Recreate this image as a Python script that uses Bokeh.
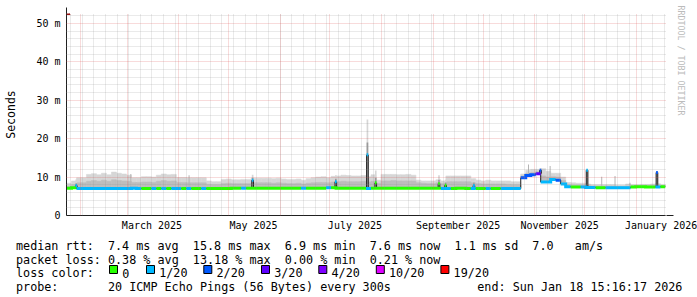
import re
import numpy as np
import pandas as pd
from bokeh.plotting import figure
from bokeh.layouts import column
from bokeh.models import (Range1d, FixedTicker, DatetimeTickFormatter, Title,
                          Arrow, NormalHead)
from bokeh.core.properties import value
from bokeh.embed import file_html
from bokeh.resources import INLINE

# ---------------- data ----------------
END = pd.Timestamp("2026-01-18 15:16:17")
START = END - pd.Timedelta(days=360)
BIN_DAYS = 3          # one value per 3-day bin
SPIKE_DAYS = 1.0      # duration of short events
EPOCH = pd.Timestamp("1970-01-01")

median_ms = [
    7.1, 7.2, 7.0, 7.0, 7.0, 7.0, 7.0, 7.0, 7.0, 7.0,
    7.0, 7.0, 7.0, 7.1, 7.0, 7.0, 7.0, 7.0, 7.0, 7.0,
    7.0, 7.0, 7.0, 7.0, 7.0, 7.0, 7.0, 7.0, 7.0, 7.0,
    7.0, 7.0, 7.0, 7.1, 7.1, 7.1, 7.1, 7.1, 7.1, 7.1,
    7.1, 7.1, 7.1, 7.1, 7.1, 7.1, 7.1, 7.1, 7.1, 7.1,
    7.1, 7.1, 7.2, 7.2, 7.1, 7.1, 7.1, 7.1, 7.1, 7.1,
    7.0, 7.1, 7.1, 7.1, 7.1, 7.1, 7.1, 7.1, 7.1, 7.1,
    7.1, 7.1, 7.1, 7.1, 7.1, 7.0, 7.0, 7.0, 7.1, 7.1,
    7.0, 7.0, 7.0, 7.0, 7.0, 7.0, 7.0, 7.0, 7.0, 7.0,
    7.0, 9.8, 10.4, 10.6, 10.9, 8.7, 8.7, 9.4, 9.2, 8.2,
    7.5, 7.4, 7.4, 7.4, 7.3, 7.3, 7.2, 7.2, 7.2, 7.2,
    7.2, 7.2, 7.2, 7.4, 7.5, 7.5, 7.4, 7.4, 7.4, 7.5,
]
loss_level = [
    0, 0, 1, 1, 1, 1, 1, 1, 1, 1,
    1, 1, 1, 1, 1, 0, 0, 1, 0, 1,
    0, 1, 1, 0, 1, 0, 0, 1, 0, 0,
    0, 0, 0, 0, 0, 1, 0, 0, 0, 0,
    0, 0, 0, 0, 0, 0, 0, 1, 0, 0,
    0, 0, 1, 0, 0, 0, 0, 0, 0, 0,
    1, 0, 0, 0, 0, 0, 0, 0, 0, 0,
    0, 0, 0, 0, 0, 1, 1, 0, 0, 0,
    0, 1, 0, 0, 1, 0, 0, 1, 1, 1,
    1, 2, 2, 2, 3, 1, 1, 1, 2, 1,
    1, 0, 0, 1, 1, 1, 0, 0, 1, 1,
    1, 1, 1, 0, 0, 0, 0, 0, 1, 0,
]
smoke_top_ms = [
    8.4, 9.0, 9.8, 9.8, 10.7, 10.9, 10.6, 11.0, 10.6, 11.3,
    11.0, 10.8, 10.5, 9.8, 9.8, 10.1, 10.1, 10.0, 10.5, 10.8,
    10.6, 10.7, 9.9, 9.9, 9.8, 9.8, 9.8, 9.8, 9.0, 8.8,
    8.8, 9.4, 9.5, 9.3, 9.3, 9.4, 9.4, 9.7, 9.7, 9.7,
    9.7, 9.6, 9.7, 9.5, 9.4, 9.4, 9.5, 9.2, 9.6, 9.8,
    10.0, 10.1, 9.8, 10.2, 10.3, 10.5, 10.4, 10.3, 10.3, 10.4,
    10.1, 10.6, 9.2, 10.7, 10.7, 10.7, 10.6, 10.6, 10.7, 10.5,
    9.2, 9.0, 9.0, 9.0, 9.3, 9.0, 10.3, 10.3, 10.3, 10.3,
    10.3, 9.6, 9.2, 9.0, 9.2, 9.0, 9.0, 9.0, 9.0, 8.8,
    8.8, 10.8, 11.8, 12.0, 12.0, 12.2, 11.5, 11.0, 11.0, 10.0,
    8.6, 8.5, 8.4, 8.4, 8.2, 8.0, 8.0, 8.0, 8.0, 8.0,
    7.9, 7.9, 8.2, 8.0, 8.0, 8.1, 8.1, 8.2, 8.3, 8.0,
]
smoke_inner_ms = [
    7.7, 8.0, 8.5, 8.5, 8.9, 9.1, 8.9, 9.2, 8.9, 9.3,
    9.1, 9.0, 8.9, 8.6, 8.6, 8.7, 8.7, 8.6, 8.9, 9.1,
    8.9, 9.0, 8.6, 8.6, 8.5, 8.5, 8.5, 8.5, 8.1, 8.0,
    8.0, 8.3, 8.4, 8.3, 8.3, 8.3, 8.3, 8.5, 8.5, 8.5,
    8.5, 8.4, 8.5, 8.4, 8.3, 8.3, 8.4, 8.2, 8.4, 8.5,
    8.6, 8.6, 8.5, 8.7, 8.8, 8.9, 8.8, 8.8, 8.8, 8.9,
    8.7, 8.9, 8.4, 9.0, 9.0, 9.1, 9.0, 9.0, 9.0, 9.0,
    8.5, 8.4, 8.3, 8.3, 8.5, 8.3, 8.8, 8.8, 8.8, 8.8,
    8.8, 8.5, 8.3, 8.2, 8.2, 8.2, 8.2, 8.2, 8.1, 8.0,
    8.0, 10.3, 11.0, 11.2, 11.4, 10.3, 10.0, 10.1, 10.0, 9.1,
    8.0, 7.9, 7.9, 7.9, 7.8, 7.7, 7.7, 7.7, 7.7, 7.7,
    7.6, 7.6, 7.7, 7.8, 7.8, 7.8, 7.8, 7.8, 7.9, 7.8,
]

spike_dates = ["2025-01-29", "2025-05-15", "2025-07-04", "2025-07-23", "2025-07-28",
               "2025-09-04", "2025-09-08", "2025-09-25", "2025-11-04", "2025-12-02",
               "2026-01-13"]
spike_median_ms = [7.8, 9.2, 8.8, 15.8, 8.5, 8.3, 7.9, 7.8, 11.8, 11.8, 11.2]
spike_loss = [1, 1, 1, 1, 0, 0, 0, 1, 2, 1, 2]
spike_top_ms = [9.4, 10.6, 10.5, 25.0, 11.7, 10.5, 9.3, 9.6, 12.3, 12.0, 11.6]
spike_inner_ms = [8.4, 9.8, 9.6, 19.0, 9.8, 9.3, 8.6, 8.6, 12.0, 11.9, 11.4]

smoke_only_dates = ["2025-03-03", "2025-04-07", "2025-10-28", "2025-11-10",
                    "2025-12-11", "2025-12-19", "2025-12-28"]
smoke_only_top_ms = [10.8, 10.5, 13.3, 12.9, 10.1, 10.3, 8.5]

loss_labels = ["0", "1/20", "2/20", "3/20", "4/20", "10/20", "19/20"]
loss_colors = ["#26ff00", "#00b8ff", "#0059ff", "#5e00ff", "#7e00ff", "#dd00ff", "#ff0000"]

y_ticks = [0, 10, 20, 30, 40, 50]
y_tick_labels = ["0", "10 m", "20 m", "30 m", "40 m", "50 m"]
y_minor = [v for v in range(2, 53, 2) if v % 10 != 0]
x_label_months = ["2025-03-01", "2025-05-01", "2025-07-01", "2025-09-01",
                  "2025-11-01", "2026-01-01"]

stat_names = ["avg", "max", "min", "now"]
rtt_values = [7.4, 15.8, 6.9, 7.6]
rtt_sd = 1.1
rtt_am_s = 7.0
loss_values = [0.38, 13.18, 0.00, 0.21]
probe_text = "20 ICMP Echo Pings (56 Bytes) every 300s"
end_text = "end: Sun Jan 18 15:16:17 2026"
loss_title = "loss color:"
watermark = "RRDTOOL / TOBI OETIKER"

# ---------------- helpers ----------------
DAY_MS = 86400000.0


def to_ms(ts):
    return ((pd.DatetimeIndex(ts) - EPOCH) / pd.Timedelta(milliseconds=1)).to_numpy()


start_ms = (START - EPOCH) / pd.Timedelta(milliseconds=1)
end_ms = (END - EPOCH) / pd.Timedelta(milliseconds=1)
n = len(median_ms)
edges = pd.date_range(START, periods=n + 1, freq=f"{BIN_DAYS}D")
edges_ms = to_ms(edges)
med = np.array(median_ms)

month_starts = pd.date_range("2025-02-01", "2026-01-01", freq="MS")
sundays = pd.date_range("2025-01-26", "2026-01-18", freq="7D")
label_ticks = to_ms(pd.to_datetime(x_label_months)) + 15 * DAY_MS

# ---------------- main figure ----------------
W = 697
FL, FT, FW, FH = 66, 13, 600, 202     # frame geometry in pixels
MAIN_H = 233
Y_TOP = 52.6
p = figure(width=W, height=MAIN_H, x_axis_type="datetime",
           x_range=Range1d(start_ms, end_ms), y_range=Range1d(0, Y_TOP),
           output_backend="svg", toolbar_location=None,
           min_border_left=FL, min_border_right=W - FL - FW, min_border_top=FT,
           min_border_bottom=MAIN_H - FT - FH, background_fill_color="white",
           border_fill_color="white", outline_line_color=None)

MONO = "DejaVu Sans Mono"
AXIS_C = "#202020"
MS_PER_PX = (end_ms - start_ms) / FW
Y_PER_PX = Y_TOP / FH

p.yaxis.ticker = FixedTicker(ticks=y_ticks)
p.yaxis.major_label_overrides = dict(zip(y_ticks, y_tick_labels))
p.xaxis.ticker = FixedTicker(ticks=list(label_ticks))
p.xaxis.formatter = DatetimeTickFormatter(days="%B %Y", months="%B %Y", years="%B %Y")
for ax in (p.xaxis, p.yaxis):
    ax.axis_line_color = AXIS_C
    ax.major_tick_line_color = None
    ax.minor_tick_line_color = None
    ax.major_tick_out = 0
    ax.major_tick_in = 0
    ax.minor_tick_out = 0
    ax.minor_tick_in = 0
    ax.major_label_text_font = MONO
    ax.major_label_text_font_size = "10px"
    ax.major_label_text_color = "black"
p.xaxis.major_label_standoff = 4
p.yaxis.major_label_standoff = 6
p.yaxis.axis_label = "Seconds"
p.yaxis.axis_label_text_font = MONO
p.yaxis.axis_label_text_font_size = "11.5px"
p.yaxis.axis_label_text_font_style = "normal"
p.yaxis.axis_label_text_color = "black"
p.yaxis.axis_label_standoff = 15

p.xgrid.ticker = FixedTicker(ticks=list(to_ms(month_starts)), minor_ticks=list(to_ms(sundays)))
p.ygrid.ticker = FixedTicker(ticks=y_ticks, minor_ticks=y_minor)
for g in (p.xgrid, p.ygrid):
    g.level = "overlay"
    g.grid_line_color = "#DE5050"
    g.grid_line_alpha = 0.42
    g.grid_line_dash = "1 1"
    g.minor_grid_line_color = "#8F8F8F"
    g.minor_grid_line_alpha = 0.38
    g.minor_grid_line_dash = "1 1"

# watermark in the right border
p.add_layout(Title(text=watermark, align="left", text_font=MONO,
                   text_font_size="8.3px", text_font_style="normal",
                   text_color="#bbbbbb", standoff=20, offset=-8), "right")

# ---------------- smoke ----------------
OUTER, INNER, DARK = "#d6d6d6", "#bdbdbd", "#9a9a9a"
p.quad(left=edges_ms[:-1], right=edges_ms[1:], bottom=med, top=smoke_top_ms,
       fill_color=OUTER, line_color=OUTER, line_width=0.6)
p.quad(left=edges_ms[:-1], right=edges_ms[1:], bottom=med, top=smoke_inner_ms,
       fill_color=INNER, line_color=INNER, line_width=0.6)

sp_t0 = to_ms(pd.to_datetime(spike_dates))
sp_t1 = sp_t0 + SPIKE_DAYS * DAY_MS
sp_idx = ((sp_t0 - start_ms) // (BIN_DAYS * DAY_MS)).astype(int)
sp_base = med[sp_idx]
p.quad(left=sp_t0, right=sp_t1, bottom=sp_base, top=spike_top_ms,
       fill_color=OUTER, line_color=None)
p.quad(left=sp_t0, right=sp_t1, bottom=sp_base, top=spike_inner_ms,
       fill_color=DARK, line_color=None)

so_t0 = to_ms(pd.to_datetime(smoke_only_dates))
so_idx = ((so_t0 - start_ms) // (BIN_DAYS * DAY_MS)).astype(int)
p.quad(left=so_t0, right=so_t0 + 0.6 * DAY_MS, bottom=med[so_idx], top=smoke_only_top_ms,
       fill_color="#b4b4b4", line_color=None)

# ---------------- median line ----------------
step_x = np.repeat(edges_ms, 2)[1:-1]
step_y = np.repeat(med, 2)
p.line(step_x, step_y, line_color="#202020", line_width=1)
p.segment(x0=np.concatenate([sp_t0, sp_t1]), y0=np.concatenate([sp_base, sp_base]),
          x1=np.concatenate([sp_t0, sp_t1]),
          y1=np.concatenate([spike_median_ms, spike_median_ms]),
          line_color="#202020", line_width=1)

runs_x, runs_y, runs_c = [], [], []
i = 0
while i < n:
    j = i
    while j + 1 < n and loss_level[j + 1] == loss_level[i]:
        j += 1
    xs, ys = [], []
    for k in range(i, j + 1):
        xs += [edges_ms[k], edges_ms[k + 1]]
        ys += [median_ms[k], median_ms[k]]
    runs_x.append(xs)
    runs_y.append(ys)
    runs_c.append(loss_colors[loss_level[i]])
    i = j + 1
p.multi_line(xs=runs_x, ys=runs_y, line_color=runs_c, line_width=3, line_join="miter")
p.segment(x0=sp_t0, y0=spike_median_ms, x1=sp_t1, y1=spike_median_ms,
          line_color=[loss_colors[l] for l in spike_loss], line_width=3)

# ---------------- axis arrows (data units) ----------------
ARROW_C = "#9a1414"
p.add_layout(Arrow(x_start=start_ms, y_start=Y_TOP - 4 * Y_PER_PX, x_end=start_ms,
                   y_end=Y_TOP + 6 * Y_PER_PX, line_color=AXIS_C, line_width=1,
                   level="overlay",
                   end=NormalHead(size=7, fill_color=ARROW_C, line_color=ARROW_C)))
p.add_layout(Arrow(x_start=start_ms, y_start=0, x_end=end_ms + 8 * MS_PER_PX, y_end=0,
                   line_color=AXIS_C, line_width=1, level="overlay",
                   end=NormalHead(size=7, fill_color=ARROW_C, line_color=ARROW_C)))

# ---------------- legend figure (pixel coordinates) ----------------
LEG_H = 297 - MAIN_H
q = figure(width=W, height=LEG_H, x_range=Range1d(0, W), y_range=Range1d(297, MAIN_H),
           output_backend="svg", toolbar_location=None, min_border=0,
           x_axis_location=None, y_axis_location=None,
           background_fill_color="white", border_fill_color="white",
           outline_line_color=None)
q.xgrid.visible = False
q.ygrid.visible = False
for fig in (p, q):
    if "frame_align" in fig.properties():
        fig.frame_align = False

LEG_FONT = 11.75
ADV = 0.602 * LEG_FONT          # monospace advance in px
X0 = 15.5
row_base = [245.3, 259.0, 272.7, 286.5]

line1 = ("median rtt:  "
         + "  ".join(f"{v:.1f} ms {nm}" for v, nm in zip(rtt_values, stat_names))
         + f"  {rtt_sd:.1f} ms sd  {rtt_am_s:.1f}   am/s")
line2 = ("packet loss: "
         + "  ".join(f"{v:.2f} % {nm}" for v, nm in zip(loss_values, stat_names)))
line4 = "probe:       " + probe_text

tx, ty, tt = [], [], []
for line, base in ((line1, row_base[0]), (line2, row_base[1]), (line4, row_base[3])):
    for m in re.finditer(r"\S+(?: \S+)*", line):
        tx.append(X0 + m.start() * ADV); ty.append(base); tt.append(m.group())
tx.append(X0); ty.append(row_base[2]); tt.append(loss_title)
sq_left = [109, 146, 203.3, 261, 318.3, 375.8, 440.4]
for lbl, sx in zip(loss_labels, sq_left):
    tx.append(sx + 12.7); ty.append(row_base[2]); tt.append(lbl)
tx.append(476.8); ty.append(row_base[3]); tt.append(end_text)

q.text(x=tx, y=ty, text=tt, text_font=value(MONO), text_font_size=f"{LEG_FONT}px",
       text_color="black", text_baseline="alphabetic", text_align="left")
q.quad(left=sq_left, right=[s + 8 for s in sq_left], top=[265] * len(sq_left),
       bottom=[273] * len(sq_left), fill_color=loss_colors, line_color="black",
       line_width=1)

layout = column(p, q, spacing=0)
open("out.html", "w").write(file_html(layout, INLINE))
